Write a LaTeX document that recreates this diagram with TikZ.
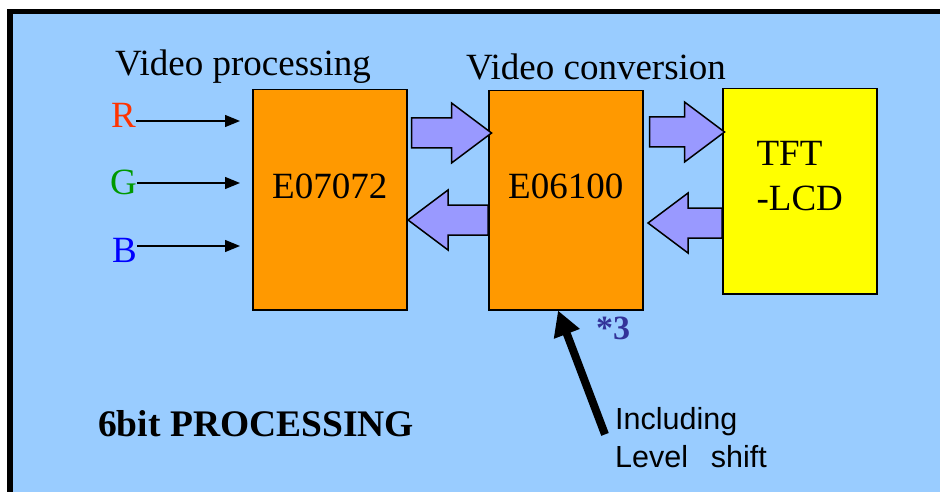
\documentclass[tikz,border=0pt]{standalone}
\usepackage{fontspec}
\setmainfont{Liberation Serif}
\setsansfont{Liberation Sans}
\usetikzlibrary{arrows.meta}

\definecolor{panelblue}{HTML}{99CCFF}
\definecolor{chiporange}{HTML}{FF9900}
\definecolor{lcdyellow}{HTML}{FFFF00}
\definecolor{buspurple}{HTML}{9999FF}
\definecolor{redsig}{HTML}{FF3300}
\definecolor{greensig}{HTML}{009900}
\definecolor{bluesig}{HTML}{0000FF}
\definecolor{notenavy}{HTML}{333399}

\begin{document}
\begin{tikzpicture}[x=1pt,y=-1pt,
    txt/.style={inner sep=0pt,font=\fontsize{37}{45}\selectfont},
    chipbox/.style={txt,draw=black,line width=1.5pt,fill=chiporange,anchor=north west,minimum width=154pt,text depth=28pt},
    sig/.style={-{Triangle[length=15pt,width=12pt]},line width=1.3pt},
    busfill/.style={draw=black,line width=1.5pt,fill=buspurple},
    pointer/.style={-{Triangle[length=25pt,width=26pt]},line width=8pt},
    pics/busarrow/.style={code={\draw[busfill] (0,-15) -- (#1-40,-15) -- (#1-40,-30) -- (#1,0) -- (#1-40,30) -- (#1-40,15) -- (0,15) -- cycle;}}]
    % page and panel
    \useasboundingbox (0,0) rectangle (940,492);
    \fill[white] (0,0) rectangle (940,492);
    \draw[line width=5.5pt,fill=panelblue] (10,11.5) rectangle (990,530);

    % blocks
    \node[chipbox,minimum height=220pt](E07072)at(252,89){E07072};
    \node[chipbox,minimum height=219pt](E06100)at(488,90){E06100};
    \node[chipbox,fill=lcdyellow,minimum height=205pt,align=left,text depth=30pt](lcd)at(722,88){TFT\\-LCD};

    % titles
    \node[txt,anchor=base west](vproc)at(115,76){Video processing};
    \node[txt,anchor=base west](vconv)at(466,80){Video conversion};

    % colour inputs
    \node[txt,anchor=base east,text=redsig](R)at(136,128){R};
    \node[txt,anchor=base east,text=greensig](G)at(137,194){G};
    \node[txt,anchor=base east,text=bluesig](B)at(137,262){B};
    \draw[sig,shorten >=12pt] (R.east |- 0,121) -- (E07072.west |- 0,121);
    \draw[sig,shorten >=12pt] (G.east |- 0,183) -- (E07072.west |- 0,183);
    \draw[sig,shorten >=12pt] (B.east |- 0,246) -- (E07072.west |- 0,246);

    % data buses
    \pic[xshift=4pt] at (E07072.east |- 0,133) {busarrow=80};
    \pic[rotate=180] at (E06100.west |- 0,220) {busarrow=80};
    \pic[xshift=6pt] at (E06100.east |- 0,132) {busarrow=75};
    \pic[rotate=180] at (lcd.west |- 0,223) {busarrow=74};

    % note
    \node[txt,anchor=base west,font=\bfseries\fontsize{34}{38}\selectfont,text=notenavy](star)at(596,339){*3};
    \node[txt,font=\sffamily\fontsize{30.5}{38}\selectfont,align=left,anchor=north west](lvl)at(615,407){Including\\Level\hspace{0.75em}shift};
    \draw[pointer] ([xshift=-10pt,yshift=3pt]lvl.west) -- (E06100.south -| 558,0);

    \node[txt,anchor=base west,font=\bfseries\fontsize{37.5}{44}\selectfont](mode)at(98,436){6bit PROCESSING};
\end{tikzpicture}
\end{document}
